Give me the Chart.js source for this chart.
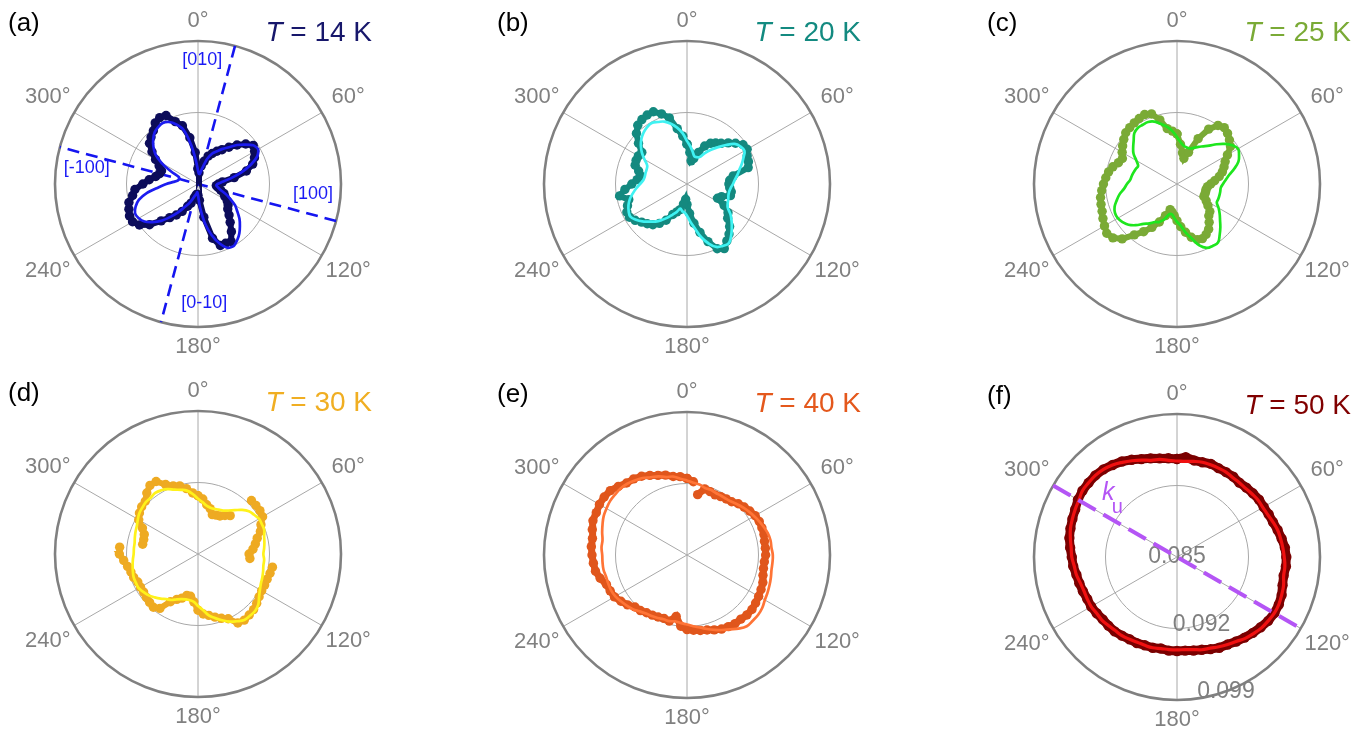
<!DOCTYPE html>
<html>
<head>
<meta charset="utf-8">
<script src="https://cdn.jsdelivr.net/npm/chart.js"></script>
<style>
  html, body { margin: 0; padding: 0; background: #fff; overflow: hidden; }
  body { width: 1371px; height: 732px; position: relative; }
</style>
</head>
<body>
<script>
// angle in degrees, clockwise from the top
const angles = [
  0, 5, 10, 15, 20, 25, 30, 35, 40, 45, 50, 55,
  60, 65, 70, 75, 80, 85, 90, 95, 100, 105, 110, 115,
  120, 125, 130, 135, 140, 145, 150, 155, 160, 165, 170, 175,
  180, 185, 190, 195, 200, 205, 210, 215, 220, 225, 230, 235,
  240, 245, 250, 255, 260, 265, 270, 275, 280, 285, 290, 295,
  300, 305, 310, 315, 320, 325, 330, 335, 340, 345, 350, 355
];

const rMin = 0.085, rMax = 0.099;
const radialTicks = [0.085, 0.092, 0.099];
const spokeAngles = [0, 60, 120, 180, 240, 300];
const panelLetters = ['(a)', '(b)', '(c)', '(d)', '(e)', '(f)'];
const temperaturesK = [14, 20, 25, 30, 40, 50];

// T = 14 K
const dots14K = [
  0.0865, 0.0861, 0.0868, 0.0873, 0.0879, 0.0883, 0.0887, 0.0891, 0.0897, 0.0904, 0.0911, 0.0916,
  0.0914, 0.0911, 0.0907, 0.0899, 0.0886, 0.0874, 0.0870, 0.0868, 0.0870, 0.0873, 0.0877, 0.0879,
  0.0883, 0.0886, 0.0888, 0.0893, 0.0899, 0.0907, 0.0915, 0.0914, 0.0914, 0.0905, 0.0883, 0.0866,
  0.0861, 0.0860, 0.0861, 0.0864, 0.0870, 0.0874, 0.0881, 0.0887, 0.0893, 0.0901, 0.0912, 0.0920,
  0.0924, 0.0924, 0.0922, 0.0920, 0.0915, 0.0912, 0.0904, 0.0898, 0.0892, 0.0889, 0.0888, 0.0892,
  0.0898, 0.0905, 0.0912, 0.0915, 0.0918, 0.0923, 0.0925, 0.0924, 0.0915, 0.0909, 0.0896, 0.0881
];
const fit14K = [
  0.0863, 0.0860, 0.0860, 0.0866, 0.0876, 0.0883, 0.0887, 0.0892, 0.0897, 0.0904, 0.0910, 0.0916,
  0.0918, 0.0914, 0.0905, 0.0894, 0.0883, 0.0874, 0.0869, 0.0868, 0.0870, 0.0873, 0.0879, 0.0885,
  0.0892, 0.0897, 0.0903, 0.0908, 0.0913, 0.0917, 0.0920, 0.0919, 0.0912, 0.0902, 0.0889, 0.0873,
  0.0861, 0.0858, 0.0860, 0.0862, 0.0866, 0.0871, 0.0876, 0.0884, 0.0892, 0.0901, 0.0908, 0.0914,
  0.0917, 0.0918, 0.0915, 0.0910, 0.0901, 0.0889, 0.0881, 0.0874, 0.0870, 0.0869, 0.0870, 0.0879,
  0.0891, 0.0901, 0.0907, 0.0912, 0.0916, 0.0918, 0.0919, 0.0917, 0.0912, 0.0905, 0.0889, 0.0873
];
// crystal axes for 14 K, drawn across the full circle
const axisAngles14K = [15, 105];
const axisNames14K = ['[010]', '[-100]', '[100]', '[0-10]'];
const axisNameAngles14K = [2, 278, 95, 177];
const axisNameRadii14K = [0.0971, 0.0960, 0.0963, 0.0967];

// T = 20 K
const dots20K = [
  0.0889, 0.0881, 0.0873, 0.0876, 0.0883, 0.0891, 0.0896, 0.0899, 0.0902, 0.0907, 0.0912, 0.0917,
  0.0918, 0.0915, 0.0914, 0.0912, 0.0896, 0.0892, 0.0891, 0.0892, 0.0894, 0.0894, 0.0886, 0.0883,
  0.0892, 0.0899, 0.0902, 0.0909, 0.0914, 0.0918, 0.0923, 0.0920, 0.0910, 0.0899, 0.0889, 0.0879,
  0.0870, 0.0865, 0.0870, 0.0876, 0.0879, 0.0883, 0.0891, 0.0897, 0.0902, 0.0905, 0.0908, 0.0912,
  0.0915, 0.0915, 0.0912, 0.0909, 0.0917, 0.0911, 0.0904, 0.0899, 0.0896, 0.0899, 0.0904, 0.0905,
  0.0905, 0.0904, 0.0912, 0.0920, 0.0925, 0.0927, 0.0928, 0.0928, 0.0923, 0.0917, 0.0905, 0.0897
];
const fit20K = [
  0.0892, 0.0887, 0.0882, 0.0878, 0.0878, 0.0879, 0.0885, 0.0891, 0.0897, 0.0904, 0.0911, 0.0914,
  0.0915, 0.0911, 0.0907, 0.0903, 0.0900, 0.0897, 0.0895, 0.0893, 0.0892, 0.0892, 0.0893, 0.0894,
  0.0896, 0.0902, 0.0907, 0.0912, 0.0917, 0.0921, 0.0920, 0.0918, 0.0912, 0.0904, 0.0894, 0.0887,
  0.0881, 0.0878, 0.0877, 0.0875, 0.0879, 0.0883, 0.0888, 0.0893, 0.0898, 0.0902, 0.0907, 0.0911,
  0.0914, 0.0913, 0.0911, 0.0908, 0.0904, 0.0900, 0.0896, 0.0893, 0.0892, 0.0892, 0.0892, 0.0893,
  0.0898, 0.0904, 0.0909, 0.0913, 0.0916, 0.0918, 0.0919, 0.0917, 0.0915, 0.0911, 0.0906, 0.0900
];

// T = 25 K
const dots25K = [
  0.0899, 0.0889, 0.0881, 0.0876, 0.0883, 0.0899, 0.0912, 0.0920, 0.0922, 0.0920, 0.0917, 0.0914,
  0.0907, 0.0902, 0.0899, 0.0896, 0.0892, 0.0887, 0.0883, 0.0880, 0.0879, 0.0879, 0.0879, 0.0879,
  0.0883, 0.0887, 0.0892, 0.0894, 0.0899, 0.0904, 0.0907, 0.0909, 0.0908, 0.0904, 0.0898, 0.0892,
  0.0886, 0.0881, 0.0878, 0.0876, 0.0883, 0.0891, 0.0899, 0.0907, 0.0915, 0.0926, 0.0932, 0.0934,
  0.0932, 0.0930, 0.0928, 0.0927, 0.0926, 0.0924, 0.0922, 0.0920, 0.0918, 0.0915, 0.0911, 0.0909,
  0.0912, 0.0915, 0.0918, 0.0921, 0.0922, 0.0923, 0.0924, 0.0925, 0.0923, 0.0915, 0.0905, 0.0902
];
const fit25K = [
  0.0896, 0.0891, 0.0888, 0.0887, 0.0887, 0.0889, 0.0892, 0.0895, 0.0899, 0.0905, 0.0911, 0.0916,
  0.0919, 0.0917, 0.0914, 0.0908, 0.0902, 0.0898, 0.0895, 0.0893, 0.0893, 0.0893, 0.0893, 0.0893,
  0.0897, 0.0901, 0.0905, 0.0910, 0.0915, 0.0920, 0.0920, 0.0919, 0.0914, 0.0905, 0.0898, 0.0891,
  0.0887, 0.0883, 0.0880, 0.0881, 0.0887, 0.0891, 0.0893, 0.0897, 0.0901, 0.0907, 0.0912, 0.0915,
  0.0917, 0.0917, 0.0915, 0.0911, 0.0907, 0.0902, 0.0899, 0.0896, 0.0895, 0.0894, 0.0893, 0.0892,
  0.0896, 0.0902, 0.0906, 0.0910, 0.0915, 0.0917, 0.0917, 0.0917, 0.0915, 0.0911, 0.0907, 0.0902
];

// T = 30 K
const dots30K = [
  0.0907, 0.0904, 0.0899, 0.0896, 0.0891, 0.0892, 0.0893, 0.0896, 0.0899, 0.0924, 0.0924, 0.0924,
  0.0923, 0.0918, 0.0915, 0.0910, 0.0907, 0.0904, 0.0900, 0.0901, 0.0924, 0.0923, 0.0922, 0.0922,
  0.0922, 0.0923, 0.0925, 0.0927, 0.0928, 0.0929, 0.0928, 0.0920, 0.0917, 0.0914, 0.0911, 0.0909,
  0.0905, 0.0897, 0.0892, 0.0892, 0.0896, 0.0899, 0.0904, 0.0915, 0.0918, 0.0917, 0.0916, 0.0915,
  0.0915, 0.0915, 0.0917, 0.0918, 0.0920, 0.0923, 0.0927, 0.0927, 0.0905, 0.0905, 0.0906, 0.0910,
  0.0917, 0.0920, 0.0922, 0.0923, 0.0928, 0.0932, 0.0932, 0.0925, 0.0921, 0.0919, 0.0915, 0.0910
];
const fit30K = [
  0.0904, 0.0901, 0.0898, 0.0897, 0.0897, 0.0898, 0.0899, 0.0902, 0.0906, 0.0911, 0.0915, 0.0917,
  0.0919, 0.0919, 0.0919, 0.0917, 0.0916, 0.0915, 0.0914, 0.0915, 0.0915, 0.0916, 0.0917, 0.0918,
  0.0920, 0.0923, 0.0927, 0.0929, 0.0929, 0.0929, 0.0926, 0.0923, 0.0919, 0.0915, 0.0911, 0.0905,
  0.0901, 0.0897, 0.0896, 0.0896, 0.0897, 0.0899, 0.0902, 0.0904, 0.0907, 0.0910, 0.0913, 0.0915,
  0.0917, 0.0917, 0.0917, 0.0916, 0.0915, 0.0914, 0.0913, 0.0913, 0.0913, 0.0914, 0.0915, 0.0916,
  0.0918, 0.0920, 0.0921, 0.0922, 0.0922, 0.0923, 0.0922, 0.0920, 0.0917, 0.0915, 0.0913, 0.0909
];

// T = 40 K
const dots40K = [
  0.0925, 0.0922, 0.0910, 0.0917, 0.0916, 0.0915, 0.0916, 0.0917, 0.0918, 0.0921, 0.0923, 0.0925,
  0.0927, 0.0928, 0.0928, 0.0928, 0.0927, 0.0927, 0.0927, 0.0926, 0.0926, 0.0927, 0.0929, 0.0930,
  0.0931, 0.0932, 0.0933, 0.0933, 0.0932, 0.0932, 0.0931, 0.0930, 0.0928, 0.0926, 0.0925, 0.0924,
  0.0923, 0.0920, 0.0911, 0.0917, 0.0916, 0.0917, 0.0918, 0.0919, 0.0921, 0.0922, 0.0926, 0.0929,
  0.0932, 0.0933, 0.0934, 0.0938, 0.0941, 0.0942, 0.0943, 0.0944, 0.0944, 0.0946, 0.0948, 0.0948,
  0.0949, 0.0949, 0.0948, 0.0945, 0.0942, 0.0941, 0.0939, 0.0936, 0.0933, 0.0931, 0.0928, 0.0927
];
const fit40K = [
  0.0923, 0.0921, 0.0920, 0.0918, 0.0918, 0.0917, 0.0917, 0.0917, 0.0918, 0.0920, 0.0922, 0.0924,
  0.0926, 0.0928, 0.0930, 0.0932, 0.0933, 0.0933, 0.0934, 0.0934, 0.0934, 0.0935, 0.0936, 0.0937,
  0.0938, 0.0940, 0.0941, 0.0941, 0.0941, 0.0938, 0.0934, 0.0931, 0.0928, 0.0925, 0.0922, 0.0920,
  0.0918, 0.0917, 0.0916, 0.0917, 0.0917, 0.0918, 0.0919, 0.0920, 0.0922, 0.0925, 0.0927, 0.0929,
  0.0931, 0.0932, 0.0932, 0.0932, 0.0933, 0.0933, 0.0933, 0.0934, 0.0934, 0.0936, 0.0938, 0.0940,
  0.0941, 0.0942, 0.0942, 0.0942, 0.0941, 0.0939, 0.0937, 0.0934, 0.0932, 0.0929, 0.0928, 0.0925
];

// T = 50 K
const dots50K = [
  0.0946, 0.0948, 0.0946, 0.0946, 0.0947, 0.0946, 0.0946, 0.0946, 0.0945, 0.0946, 0.0947, 0.0948,
  0.0948, 0.0949, 0.0950, 0.0952, 0.0954, 0.0956, 0.0957, 0.0957, 0.0956, 0.0957, 0.0959, 0.0960,
  0.0960, 0.0959, 0.0957, 0.0955, 0.0953, 0.0951, 0.0949, 0.0948, 0.0946, 0.0944, 0.0943, 0.0942,
  0.0942, 0.0942, 0.0941, 0.0942, 0.0942, 0.0943, 0.0943, 0.0944, 0.0945, 0.0945, 0.0945, 0.0946,
  0.0947, 0.0947, 0.0948, 0.0949, 0.0950, 0.0952, 0.0953, 0.0955, 0.0957, 0.0958, 0.0959, 0.0960,
  0.0962, 0.0963, 0.0963, 0.0963, 0.0962, 0.0960, 0.0958, 0.0955, 0.0952, 0.0950, 0.0948, 0.0947
];
const fit50K = [
  0.0944, 0.0944, 0.0945, 0.0946, 0.0946, 0.0946, 0.0946, 0.0945, 0.0945, 0.0945, 0.0946, 0.0947,
  0.0947, 0.0948, 0.0950, 0.0952, 0.0953, 0.0954, 0.0955, 0.0956, 0.0956, 0.0958, 0.0959, 0.0960,
  0.0960, 0.0959, 0.0958, 0.0956, 0.0954, 0.0951, 0.0949, 0.0947, 0.0945, 0.0944, 0.0942, 0.0941,
  0.0941, 0.0941, 0.0941, 0.0942, 0.0942, 0.0942, 0.0943, 0.0944, 0.0944, 0.0945, 0.0946, 0.0946,
  0.0947, 0.0947, 0.0947, 0.0948, 0.0950, 0.0951, 0.0953, 0.0954, 0.0956, 0.0958, 0.0959, 0.0960,
  0.0961, 0.0963, 0.0963, 0.0963, 0.0962, 0.0960, 0.0957, 0.0954, 0.0951, 0.0948, 0.0947, 0.0945
];
// uniaxial anisotropy axis for 50 K
const kuAxisAngle50K = 120;
const radialLabelAngle = 160;

const dotSeries = [dots14K, dots20K, dots25K, dots30K, dots40K, dots50K];
const fitSeries = [fit14K, fit20K, fit25K, fit30K, fit40K, fit50K];

// layout + colours (gap: px jump above which neighbouring dots are not joined)
const panelStyle = [
  { cx: 198,  cy: 184, dot: '#0c0c5a', fit: '#1c1cf0', title: '#17176b', gap: 26, band: 6, fitW: 2.7 },
  { cx: 687,  cy: 184, dot: '#14897f', fit: '#3ff2f2', title: '#138a80', gap: 26, band: 6, fitW: 2.7 },
  { cx: 1177, cy: 184, dot: '#7aaa36', fit: '#1ee61e', title: '#7aaa36', gap: 26, band: 6, fitW: 2.7 },
  { cx: 198,  cy: 554, dot: '#eeaa22', fit: '#fff21a', title: '#f0ae22', gap: 18, band: 6, fitW: 2.7 },
  { cx: 687,  cy: 555, dot: '#e0561c', fit: '#ff7436', title: '#e4581c', gap: 12, band: 7, fitW: 2.7 },
  { cx: 1177, cy: 557, dot: '#7a0000', fit: '#f01010', title: '#800000', gap: 30, band: 9, fitW: 3.2 }
];

const FONT = '"Liberation Sans", Arial, Helvetica, sans-serif';
const CW = 390, CH = 362, R = 143;

function polar(theta, r) {
  const a = theta * Math.PI / 180, d = r - rMin;
  return { x: d * Math.sin(a), y: d * Math.cos(a) };
}

function ringPoints(values) {
  const pts = angles.map((t, i) => polar(t, values[i]));
  pts.push(pts[0]);
  return pts;
}

const polarFrame = {
  id: 'polarFrame',
  beforeDatasetsDraw(chart, args, opts) {
    const { ctx, scales: { x, y } } = chart;
    const cx = x.getPixelForValue(0), cy = y.getPixelForValue(0);
    const rad = v => x.getPixelForValue(v - rMin) - cx;
    const Rpx = rad(rMax);
    ctx.save();
    ctx.strokeStyle = '#a8a8a8';
    ctx.lineWidth = 1;
    spokeAngles.forEach(t => {
      const a = t * Math.PI / 180;
      ctx.beginPath();
      ctx.moveTo(cx, cy);
      ctx.lineTo(cx + Rpx * Math.sin(a), cy - Rpx * Math.cos(a));
      ctx.stroke();
    });
    radialTicks.slice(1, -1).forEach(v => {
      ctx.beginPath();
      ctx.arc(cx, cy, rad(v), 0, Math.PI * 2);
      ctx.stroke();
    });
    ctx.strokeStyle = '#808080';
    ctx.lineWidth = 2.6;
    ctx.beginPath();
    ctx.arc(cx, cy, Rpx, 0, Math.PI * 2);
    ctx.stroke();

    if (opts.radialLabels) {
      ctx.fillStyle = '#7f7f7f';
      ctx.font = '23px ' + FONT;
      ctx.textAlign = 'center';
      ctx.textBaseline = 'middle';
      const a = radialLabelAngle * Math.PI / 180;
      radialTicks.forEach(v => {
        const r = rad(v);
        ctx.fillText(v.toFixed(3), cx + r * Math.sin(a), cy - r * Math.cos(a));
      });
    }
    ctx.restore();
  },
  afterDatasetsDraw(chart, args, opts) {
    const { ctx, scales: { x, y } } = chart;
    const cx = x.getPixelForValue(0), cy = y.getPixelForValue(0);
    const rad = v => x.getPixelForValue(v - rMin) - cx;
    const Rpx = rad(rMax);
    ctx.save();

    // angle labels
    ctx.fillStyle = '#808080';
    ctx.font = '22px ' + FONT;
    ctx.textAlign = 'center';
    ctx.textBaseline = 'middle';
    spokeAngles.forEach(t => {
      const a = t * Math.PI / 180;
      const r = Rpx + 20 + 12 * Math.abs(Math.sin(a));
      ctx.fillText(t + '°', cx + r * Math.sin(a), cy - r * Math.cos(a));
    });

    // panel letter
    ctx.fillStyle = '#000';
    ctx.font = '26px ' + FONT;
    ctx.textAlign = 'left';
    ctx.textBaseline = 'alphabetic';
    ctx.fillText(opts.letter, cx - 190, cy - 153);

    // temperature
    ctx.fillStyle = opts.titleColor;
    ctx.font = 'italic 28px ' + FONT;
    const wT = ctx.measureText('T').width;
    ctx.font = '28px ' + FONT;
    const rest = ' = ' + opts.temp + ' K';
    const wR = ctx.measureText(rest).width;
    const x0 = cx + 174 - wT - wR;
    ctx.font = 'italic 28px ' + FONT;
    ctx.fillText('T', x0, cy - 143);
    ctx.font = '28px ' + FONT;
    ctx.fillText(rest, x0 + wT, cy - 143);

    // crystal axis names
    if (opts.axisNames) {
      ctx.fillStyle = '#1a1af5';
      ctx.font = '18px ' + FONT;
      ctx.textAlign = 'center';
      ctx.textBaseline = 'middle';
      opts.axisNames.forEach((name, i) => {
        const p = polar(axisNameAngles14K[i], axisNameRadii14K[i]);
        ctx.fillText(name, x.getPixelForValue(p.x), y.getPixelForValue(p.y));
      });
    }

    // k_u label
    if (opts.ku) {
      const p = polar(313, 0.0942);
      const px = x.getPixelForValue(p.x), py = y.getPixelForValue(p.y);
      ctx.fillStyle = '#b455f5';
      ctx.textAlign = 'center';
      ctx.textBaseline = 'middle';
      ctx.font = 'italic 25px ' + FONT;
      ctx.fillText('k', px, py);
      ctx.font = '20px ' + FONT;
      ctx.fillText('u', px + 9, py + 15);
    }
    ctx.restore();
  }
};

panelStyle.forEach((p, i) => {
  const canvas = document.createElement('canvas');
  canvas.width = CW;
  canvas.height = CH;
  canvas.style.cssText = 'position:absolute;left:' + (p.cx - CW / 2) + 'px;top:' + (p.cy - 184) + 'px;';
  document.body.appendChild(canvas);

  const hidden = 'rgba(0,0,0,0)';
  const datasets = [
    {
      data: ringPoints(fitSeries[i]), showLine: true, borderColor: p.fit,
      borderWidth: p.fitW, pointRadius: 0,
      tension: i === 0 ? 0.25 : 0.4, order: 0, clip: false
    },
    {
      // measured points, joined into a dense band where they are adjacent
      data: ringPoints(dotSeries[i]), showLine: true, borderWidth: p.band, tension: 0,
      borderColor: p.dot,
      segment: {
        borderColor: c => Math.hypot(c.p1.x - c.p0.x, c.p1.y - c.p0.y) > p.gap ? hidden : p.dot
      },
      pointRadius: i === 5 ? 5.2 : 4.7, pointBackgroundColor: p.dot, pointBorderWidth: 0,
      order: 1, clip: false
    }
  ];

  if (i === 0) {
    axisAngles14K.forEach(t => {
      datasets.push({
        data: [polar(t, rMax), polar(t + 180, rMax)], showLine: true,
        borderColor: '#1515f0', borderWidth: 2.6, borderDash: [12, 7],
        pointRadius: 0, order: 2, clip: false
      });
    });
  }
  if (i === 5) {
    datasets.push({
      data: [polar(kuAxisAngle50K + 180, rMax), polar(kuAxisAngle50K, rMax)], showLine: true,
      borderColor: '#b455f5', borderWidth: 4, borderDash: [20, 9],
      pointRadius: 0, order: -1, clip: false
    });
  }

  const span = rMax - rMin;
  new Chart(canvas, {
    type: 'scatter',
    data: { datasets },
    options: {
      responsive: false,
      animation: false,
      events: [],
      layout: { padding: { left: CW / 2 - R, right: CW / 2 - R, top: 184 - R, bottom: CH - 184 - R } },
      scales: {
        x: { type: 'linear', min: -span, max: span, display: false },
        y: { type: 'linear', min: -span, max: span, display: false }
      },
      plugins: {
        legend: { display: false },
        tooltip: { enabled: false },
        polarFrame: {
          letter: panelLetters[i],
          temp: temperaturesK[i],
          titleColor: p.title,
          axisNames: i === 0 ? axisNames14K : null,
          ku: i === 5,
          radialLabels: i === 5
        }
      }
    },
    plugins: [polarFrame]
  });
});
</script>
</body>
</html>
